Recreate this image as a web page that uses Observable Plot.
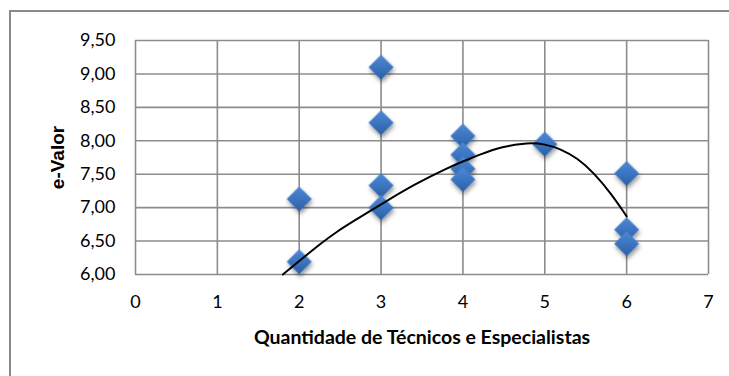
<!DOCTYPE html>
<html>
<head>
<meta charset="utf-8">
<script src="https://cdn.jsdelivr.net/npm/d3@7"></script>
<script src="https://cdn.jsdelivr.net/npm/@observablehq/plot@0.6"></script>
<style>
  html, body { margin: 0; padding: 0; background: #fff; overflow: hidden; }
  #chart { position: relative; width: 729px; height: 376px; }
  #box { position: absolute; left: 9px; top: 10px; width: 740px; height: 400px;
         border: 2px solid #8a8a8a; box-sizing: border-box; }
  #chart svg { position: absolute; left: 0; top: 0; }
</style>
</head>
<body>
<div id="chart"><div id="box"></div></div>
<script>
// Observations: number of technicians/specialists vs. e-Valor
const quantidade = [2, 2, 3, 3, 3, 3, 4, 4, 4, 4, 5, 6, 6, 6];
const eValor     = [7.13, 6.19, 9.10, 8.27, 7.33, 7.00, 8.07, 7.79, 7.58, 7.42, 7.95, 7.51, 6.67, 6.46];

// Polynomial trend line, sampled along its path
const trendX = [1.80, 2.00, 2.27, 2.47, 2.68, 2.88, 3.08, 3.41, 3.82, 4.00, 4.22, 4.47, 4.80, 5.00, 5.19, 5.40, 5.60, 5.81, 6.00];
const trendY = [6.00, 6.20, 6.47, 6.65, 6.81, 6.96, 7.11, 7.35, 7.60, 7.69, 7.80, 7.91, 7.975, 7.95, 7.88, 7.74, 7.52, 7.21, 6.87];

// Axis ticks and titles
const xTicks = [0, 1, 2, 3, 4, 5, 6, 7];
const yTicks = [6.0, 6.5, 7.0, 7.5, 8.0, 8.5, 9.0, 9.5];
const xTitle = "Quantidade de Técnicos e Especialistas";
const yTitle = "e-Valor";

const points = quantidade.map((x, i) => ({x, y: eValor[i]}));
const trend = trendX.map((x, i) => ({x, y: trendY[i]}));

const gridColor = "#8c8c8c";
const fmt = d => d.toFixed(2).replace(".", ",");

const chart = Plot.plot({
  width: 729,
  height: 376,
  marginLeft: 135,
  marginRight: 21,
  marginTop: 40,
  marginBottom: 102,
  style: {fontFamily: "Lato, sans-serif", fontSize: "18px", color: "#000", background: "transparent", overflow: "visible"},
  x: {domain: [0, 7]},
  y: {domain: [6, 9.5]},
  marks: [
    Plot.gridX(xTicks, {stroke: gridColor, strokeOpacity: 1, strokeWidth: 1.6}),
    Plot.gridY(yTicks, {stroke: gridColor, strokeOpacity: 1, strokeWidth: 1.6}),
    Plot.axisX(xTicks, {tickSize: 0, tickPadding: 21, label: null, fontSize: 18}),
    Plot.axisY(yTicks, {tickSize: 0, tickPadding: 20, tickFormat: fmt, label: null, fontSize: 18}),
    Plot.dot(points, {x: "x", y: "y", symbol: "diamond2", r: 11.3, fill: "url(#diamondFill)", stroke: "none"}),
    Plot.line(trend, {x: "x", y: "y", curve: "basis", stroke: "#000", strokeWidth: 2}),
    Plot.text([xTitle], {text: d => d, frameAnchor: "bottom", lineAnchor: "middle", textAnchor: "middle", dy: 63, fontWeight: "bold", fontSize: 19.5}),
    Plot.text([yTitle], {text: d => d, frameAnchor: "left", textAnchor: "middle", lineAnchor: "middle", dx: -78, rotate: -90, fontWeight: "bold", fontSize: 19, fontFamily: "'Liberation Sans', Arial, sans-serif"})
  ]
});

// Gradient fill and soft shadow for the diamond markers
const ns = "http://www.w3.org/2000/svg";
const defs = document.createElementNS(ns, "defs");
defs.innerHTML = `
  <linearGradient id="diamondFill" x1="0" y1="0" x2="0" y2="1">
    <stop offset="0" stop-color="#4f89d2"/>
    <stop offset="0.55" stop-color="#3a73bf"/>
    <stop offset="1" stop-color="#2c5e9f"/>
  </linearGradient>
  <filter id="diamondShadow" x="-50%" y="-50%" width="200%" height="200%">
    <feDropShadow dx="1" dy="3" stdDeviation="2" flood-color="#000" flood-opacity="0.4"/>
  </filter>`;
chart.insertBefore(defs, chart.firstChild);
const dots = chart.querySelector('g[aria-label="dot"]');
if (dots) dots.setAttribute("filter", "url(#diamondShadow)");

document.getElementById("chart").appendChild(chart);
</script>
</body>
</html>
